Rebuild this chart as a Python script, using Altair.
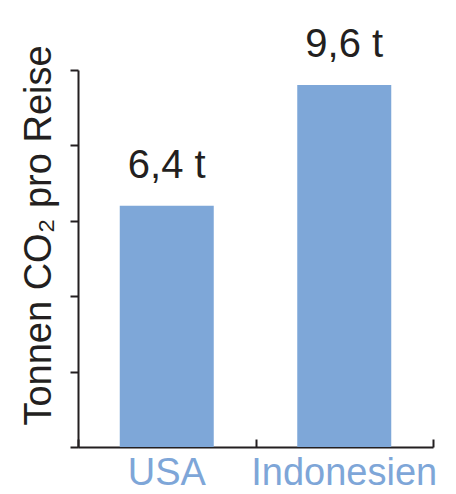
import altair as alt
import pandas as pd

countries = ["USA", "Indonesien"]
values = [6.4, 9.6]

df = pd.DataFrame({"land": countries, "wert": values})

FONT = "Liberation Sans Narrow, Arial Narrow, Liberation Sans, Arial, sans-serif"
DARK = "#231f20"
BLUE = "#7ea6d8"

x_bottom = alt.X(
    "land:N",
    sort=countries,
    scale=alt.Scale(paddingInner=0, paddingOuter=0),
    axis=alt.Axis(
        orient="bottom", title=None, ticks=False, tickSize=0, domain=True,
        domainColor=DARK, domainWidth=2, labelColor=BLUE, labelFont=FONT,
        labelFontSize=38, labelBaseline="alphabetic", labelPadding=37,
        labelAngle=0, labelLimit=400,
    ),
)
x_top = alt.X(
    "land:N",
    sort=countries,
    scale=alt.Scale(paddingInner=0, paddingOuter=0),
    axis=alt.Axis(
        orient="top", title=None, labels=False, domain=False, ticks=True,
        tickBand="extent", tickSize=8, tickWidth=2, tickColor=DARK,
        offset=-377,
    ),
)
y_enc = alt.Y(
    "wert:Q",
    scale=alt.Scale(domain=[0, 10]),
    axis=alt.Axis(
        title="Tonnen CO₂ pro Reise", values=[0, 2, 4, 6, 8, 10], labels=False,
        tickSize=8, tickWidth=2, tickColor=DARK, domainColor=DARK,
        domainWidth=2, grid=False, titleFont=FONT, titleFontSize=38,
        titleFontWeight="normal", titleColor=DARK, titleAngle=-90,
        titleBaseline="alphabetic", titleAlign="center", titleX=-28,
        titleY=165, titleLimit=600,
    ),
)

bars = alt.Chart(df).mark_bar(size=94, color="#7ea7d8").encode(x=x_bottom, y=y_enc)

texts = (
    alt.Chart(df)
    .transform_calculate(lbl="replace(format(datum.wert, '.1f'), '.', ',') + ' t'")
    .mark_text(font=FONT, fontSize=40, color=DARK, baseline="alphabetic", dy=-28)
    .encode(x=x_top, y="wert:Q", text="lbl:N")
)

chart = (
    alt.layer(bars, texts)
    .resolve_axis(x="independent")
    .properties(
        width=355,
        height=377,
        autosize=alt.AutoSizeParams(type="none"),
        padding={"left": 70, "top": 62, "right": 15, "bottom": 47},
    )
    .configure_view(stroke=None)
    .configure_axis(grid=False)
)

chart.save("out.html", embed_options={"renderer": "svg", "actions": False})
